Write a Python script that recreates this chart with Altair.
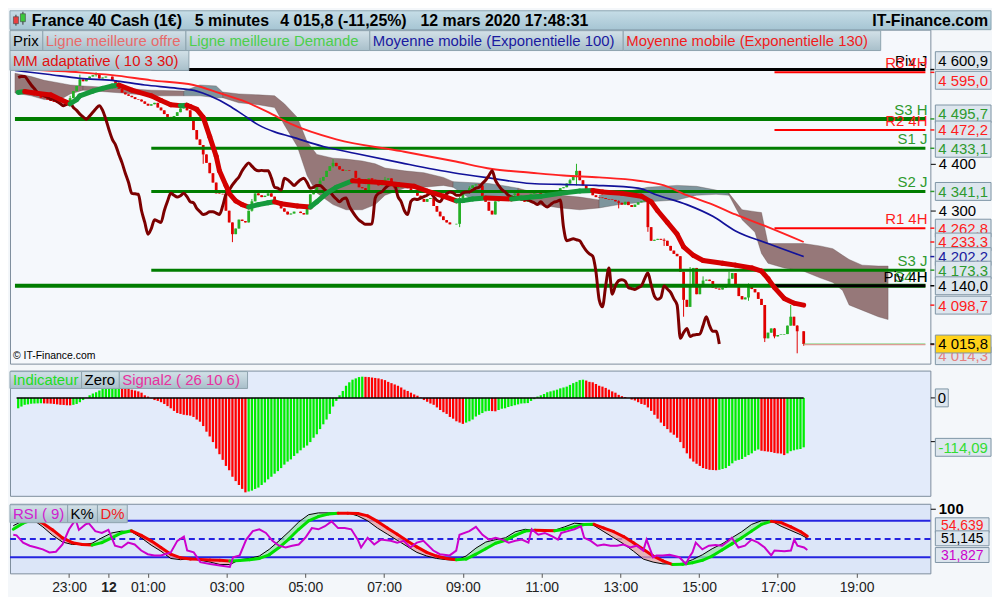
import altair as alt
import numpy as np
import pandas as pd

FONT = "Liberation Sans"
W = 926
H_PRICE, H_IND, H_RSI = 336, 126, 70
HDR = 19

# ---------------- time base ----------------
def ms(s):
    return int(pd.Timestamp(s, tz="UTC").value // 1_000_000)

T0 = ms("2020-03-11 21:35")
STEP = 5 * 60 * 1000
def ts(i):
    return T0 + STEP * i

X0, X1 = ms("2020-03-11 21:30"), ms("2020-03-12 20:52:30")
x_tick_times = ["2020-03-11 23:00", "2020-03-12 00:00", "2020-03-12 01:00", "2020-03-12 03:00",
                "2020-03-12 05:00", "2020-03-12 07:00", "2020-03-12 09:00", "2020-03-12 11:00",
                "2020-03-12 13:00", "2020-03-12 15:00", "2020-03-12 17:00", "2020-03-12 19:00"]

# ---------------- price data (5 min bars, closes) ----------------
first_open = 4553
closes = [
    4555, 4556, 4557, 4556, 4551, 4547, 4545, 4541, 4540, 4537, 4534, 4532, 4530, 4531, 4529, 4528,
    4540, 4555, 4566, 4580, 4576, 4582, 4586, 4589, 4591, 4582,
    4584, 4586, 4586, 4578, 4568, 4560, 4552, 4548, 4545, 4542, 4538, 4537, 4533, 4528, 4524, 4527,
    4530, 4520, 4514, 4506, 4500, 4495, 4502, 4510, 4518,
    4524, 4514, 4495, 4472, 4452, 4440, 4420, 4402, 4380, 4360, 4337, 4336, 4335, 4300, 4275, 4250,
    4262, 4281, 4278, 4275, 4300, 4320, 4337, 4333, 4329,
    4332, 4337, 4330, 4319, 4317, 4305, 4298, 4292, 4294, 4298, 4298, 4295, 4292, 4310, 4335, 4344,
    4355, 4364, 4372, 4385, 4395, 4402, 4395, 4388, 4385,
    4386, 4385, 4385, 4370, 4350, 4348, 4344, 4369, 4366, 4360, 4354, 4360, 4366, 4369, 4360, 4348,
    4350, 4354, 4354, 4348, 4342, 4340, 4332, 4325, 4319,
    4325, 4327, 4310, 4298, 4288, 4280, 4275, 4271, 4271, 4272, 4327, 4337, 4340, 4348, 4354, 4356,
    4354, 4330, 4319, 4300, 4292, 4320, 4325, 4324, 4327,
    4330, 4333, 4337, 4330, 4322, 4319, 4330, 4336, 4340, 4338, 4333, 4333, 4338, 4340, 4340, 4344,
    4348, 4350, 4358, 4365, 4375, 4385, 4365, 4354, 4345,
    4340, 4333, 4329, 4328, 4327, 4325, 4324, 4323, 4320, 4317, 4313, 4319, 4312, 4308, 4313, 4318,
    4320, 4323, 4265, 4236, 4238, 4240, 4238, 4236, 4225,
    4215, 4208, 4203, 4170, 4110, 4095, 4140, 4178, 4122, 4140, 4151, 4153, 4150, 4136, 4134, 4132,
    4136, 4140, 4155, 4167, 4142, 4118, 4111, 4115, 4140,
    4133, 4126, 4112, 4099, 4028, 4040, 4049, 4032, 4035, 4036, 4037, 4055, 4074, 4055, 4043, 4043,
    4015.8,
]
# bar index: (high, low) for visible wicks
wick_extremes = {
    16: (4545, 4525), 19: (4590, 4566), 24: (4595, 4586), 57: (4440, 4400), 66: (4262, 4233),
    72: (4325, 4298), 93: (4370, 4355), 97: (4410, 4392), 113: (4372, 4358), 136: (4330, 4265),
    139: (4352, 4336), 153: (4340, 4328), 170: (4368, 4356), 172: (4400, 4354), 185: (4322, 4305),
    194: (4325, 4255), 199: (4241, 4225), 205: (4170, 4074), 207: (4180, 4095), 211: (4160, 4138),
    219: (4170, 4150), 225: (4145, 4108), 230: (4099, 4020), 233: (4050, 4028), 238: (4099, 4055),
    240: (4056, 3996), 242: (4043, 4012),
}

# adaptive moving average (MM adaptative 10 3 30)
ama_idx = [0, 2, 5, 10, 13, 16, 18, 19, 23, 26, 29, 31, 35, 41, 44, 47, 50, 52, 53, 55,
           57, 59, 61, 62, 64, 65, 67, 69, 71, 74, 77, 79, 81, 86, 90, 92, 95, 98, 103, 107,
           112, 117, 122, 126, 131, 135, 137, 140, 144, 148, 152, 155, 161, 167, 173, 177, 180, 186, 192, 195,
           197, 200, 203, 205, 208, 211, 217, 221, 226, 229, 231, 233, 236, 239, 242]
ama_val = [4552, 4554, 4551, 4547, 4537, 4528, 4537, 4545, 4555, 4561, 4566, 4568, 4557, 4545, 4535, 4526, 4524, 4525, 4522, 4516,
           4499, 4458, 4416, 4385, 4354, 4337, 4321, 4313, 4308, 4313, 4317, 4319, 4315, 4310, 4308, 4319, 4337, 4350, 4364, 4362,
           4360, 4356, 4352, 4342, 4331, 4321, 4321.5, 4325, 4327, 4326, 4325, 4327, 4331, 4337, 4342, 4343, 4340, 4337, 4331, 4319,
           4300, 4275, 4250, 4223, 4205, 4194, 4188, 4184, 4178, 4171, 4155, 4136, 4113, 4103, 4098.7]

ema100_idx = [-1, 9, 19, 29, 39, 49, 55, 59, 65, 69, 74, 79, 84, 94, 104, 118, 134, 146, 158, 167,
              178, 191, 197, 206, 214, 221, 231, 242]
ema100_val = [4599, 4591, 4582, 4578, 4568, 4561, 4555, 4545, 4524, 4506, 4483, 4468, 4458, 4437, 4422, 4402, 4381, 4369, 4358, 4356,
              4354, 4348, 4333, 4313, 4288, 4257, 4230, 4202.2]
ema130_idx = [-1, 9, 19, 29, 41, 54, 62, 69, 77, 84, 98, 118, 134, 146, 158, 168, 179, 191, 199, 206, 214, 221, 231, 242]
ema130_val = [4603, 4599, 4595, 4589, 4578, 4568, 4551, 4535, 4510, 4485, 4452, 4427, 4406, 4389, 4381, 4375, 4371, 4364, 4354, 4333,
              4313, 4292, 4265, 4233.3]

# Ichimoku cloud pieces (projected 26 bars ahead)
cloud_kind = ["brun", "brun", "gris", "brun", "gris", "brun", "gris", "brun"]
cloud_idx = [
    [-1, 4, 8, 13, 16, 20],
    [20, 32, 41, 51],
    [51, 56, 61, 63],
    [63, 68, 74, 79, 82, 86, 89, 92, 97, 101, 106, 110, 113, 119, 125, 131, 134],
    [134, 139, 145, 149, 154],
    [154, 160, 167, 173, 179],
    [179, 185, 194, 203, 209, 215, 219],
    [219, 223, 227, 229, 231, 236, 242, 247, 251, 254, 256, 260, 265, 268],
]
cloud_top = [
    [4593, 4586, 4578, 4572, 4568, 4566],
    [4566, 4561, 4557, 4555],
    [4555, 4568, 4566, 4553],
    [4553, 4549, 4547, 4545, 4528, 4499, 4447, 4420, 4412, 4410, 4406, 4400, 4391, 4385, 4381, 4371, 4362],
    [4362, 4360, 4358, 4354, 4348],
    [4348, 4337, 4333, 4329, 4323],
    [4333, 4337, 4350, 4354, 4352, 4344, 4337],
    [4337, 4302, 4298, 4296, 4230, 4230, 4230, 4225, 4219, 4205, 4196, 4184, 4182, 4182],
]
cloud_bot = [
    [4551, 4545, 4537, 4537, 4549, 4557],
    [4557, 4551, 4545, 4545],
    [4545, 4545, 4541, 4541],
    [4541, 4530, 4526, 4520, 4483, 4437, 4375, 4338, 4313, 4302, 4302, 4313, 4333, 4348, 4350, 4354, 4350],
    [4350, 4327, 4323, 4323, 4329],
    [4329, 4313, 4306, 4302, 4306],
    [4306, 4313, 4319, 4323, 4333, 4335, 4333],
    [4333, 4281, 4254, 4209, 4188, 4178, 4171, 4157, 4147, 4130, 4099, 4088, 4074, 4068],
]

# pivot / support / resistance levels
level_name = ["Piv J", "R3 4H", "S3 H", "R2 4H", "S1 J", "S2 J", "R1 4H", "S3 J", "S4 H", "Piv 4H"]
level_val = [4600.9, 4595.0, 4495.7, 4472.2, 4433.1, 4341.1, 4262.8, 4173.3, 4140.0, 4140.0]
level_from = ["2020-03-12 01:00", "2020-03-12 17:00", "2020-03-11 21:30", "2020-03-12 17:00", "2020-03-12 01:00",
              "2020-03-12 01:00", "2020-03-12 17:00", "2020-03-12 01:00", "2020-03-11 21:30", "2020-03-12 17:00"]

bid_val, ask_val = 4015.8, 4014.3

# right-hand value boxes (drawn in this order)
price_box_val = [4600.9, 4595.0, 4495.7, 4472.2, 4433.1, 4341.1, 4262.8, 4233.3, 4202.2, 4173.3, 4140.0, 4098.7, 4014.3, 4015.8]
price_box_kind = ["piv", "r", "s", "r", "s", "s", "r", "r", "ema100", "s", "piv", "r", "ask", "last"]

# Signal2 (26 10 6) histogram
hist = [
    -24, -20, -16, -15, -13.5, -13, -12.7, -12.5, -12.8, -13, -13.3, -14, -15, -16, -16.3, -17, -17.2, -16, -14, -10,
    -5, 0.5, 6, 10, 13,
    17, 21, 24, 27, 29, 30, 31, 30.5, 28, 24, 19, 17, 15, 12, 6, 3, -1, -5, -7, -10, -14, -19, -24, -30, -35,
    -37, -39, -40, -41, -44, -50, -55, -65, -78, -89, -102, -117, -130, -143, -157, -167, -182, -192, -201, -210,
    -218, -216, -214, -210, -207,
    -201, -195, -188, -182, -175, -169, -162, -154, -147, -142, -134, -128, -121, -115, -110, -102, -92, -84, -72, -61,
    -50, -37, -20, -7, 6,
    16, 28, 36, 42, 45, 48, 49, 48.5, 48, 47, 46, 45, 43, 41, 37, 34, 31, 28, 24, 19, 16, 12, 8, 5, 1,
    -5, -9, -13, -16, -22, -28, -33, -37, -44, -48, -54, -57, -60, -57, -54, -50, -43, -39, -35, -31, -30, -30.5,
    -31, -28, -25,
    -24, -21, -19, -17, -15, -13, -12.5, -12, -7, -3, 3, 6, 9, 13, 15, 17, 19, 22, 24, 26, 30, 34, 37, 41, 42,
    40, 37, 36, 32, 28, 26, 23, 19, 15, 12, 7, 4, 2, 0, -4, -6, -10, -14, -16, -22, -30, -39, -48, -57, -65,
    -72, -80, -85, -92, -102, -116, -128, -140, -147, -152, -157, -162, -164, -166, -166.5, -167, -166, -164, -162,
    -157, -151, -145, -143, -141, -136,
    -132, -128, -122, -119, -122, -123, -124, -125, -127, -128, -128.5, -132, -128, -123, -121, -119, -118, -114.09,
]

# RSI (9)
rsi_idx = [0, 1, 3, 5, 7, 9, 11, 13, 15, 17, 19, 20, 22, 23, 25, 27, 29, 31, 33, 35,
           37, 39, 41, 43, 45, 48, 50, 52, 53, 55, 57, 60, 63, 66, 67, 69, 71, 73, 75, 77,
           79, 81, 83, 85, 87, 89, 91, 93, 95, 97, 99, 101, 103, 105, 106, 108, 110, 112, 115, 117,
           119, 121, 123, 125, 128, 130, 133, 135, 136, 139, 141, 143, 145, 147, 149, 151, 153, 155, 157, 158,
           160, 162, 164, 166, 167, 169, 171, 173, 174, 176, 178, 180, 182, 184, 186, 188, 190, 192, 193, 195,
           196, 198, 200, 203, 205, 206, 207, 208, 210, 212, 214, 216, 218, 219, 221, 223, 225, 227, 229, 231,
           232, 235, 237, 238, 239, 241, 242]
rsi_val = [57, 56, 44, 39, 36, 33, 28, 29, 41, 66, 82, 65, 74, 76, 63, 60, 65, 39, 36, 44,
           41, 31, 25, 23, 23, 28, 47, 54, 31, 28, 12, 9, 6.5, 4, 20, 23, 49, 63, 66, 60,
           47, 39, 36, 39, 41, 52, 68, 66, 71, 79, 68, 68, 66, 49, 36, 52, 41, 49, 47, 44,
           47, 36, 44, 47, 31, 25, 23, 31, 57, 63, 70, 57, 49, 52, 49, 44, 47, 49, 44, 66,
           57, 60, 55, 49, 60, 63, 66, 71, 52, 47, 39, 41, 39, 39, 41, 36, 39, 31, 49, 20,
           23, 23, 24, 20, 9, 20, 28, 44, 33, 39, 40, 39, 47, 52, 36, 39, 49, 44, 36, 23,
           31, 30, 31, 49, 39, 36, 31.827]

# Stochastic K% / D% (every 3 bars)
stoch_idx = list(range(0, 243, 3)) + [242]
stoch_k = [72, 80, 82, 70, 56, 45, 41, 41, 43, 52, 60, 63, 62, 52, 40, 30, 18, 16, 18, 15,
           12, 8, 8, 16, 18, 22, 33, 47, 62, 78, 90, 93, 93, 93, 93, 88, 80, 68, 58, 48,
           38, 28, 22, 18, 16, 15, 22, 35, 45, 49, 52, 62, 66, 64, 64, 64.5, 70, 76, 75, 72,
           62, 52, 42, 30, 17, 12, 9, 9, 10, 16, 24, 34, 42, 52, 62, 74, 80, 80, 71, 64,
           57, 51.145]
stoch_d = [66, 76, 82, 76, 65, 52, 44, 41, 40, 44, 52, 60, 63.5, 56, 47, 36, 25, 19, 17, 16.5,
           15.5, 15, 14, 14.5, 16, 18, 24, 36, 50, 66, 80, 87, 91, 92.5, 92.4, 92, 88, 79, 68, 58,
           47, 37, 28, 22, 18, 16, 17, 25, 34, 43, 48, 56, 63, 64.5, 64, 63.5, 66, 70, 74, 74.2,
           68, 62, 54, 44, 33, 22, 14, 8, 8.5, 11, 15, 22, 32, 42, 52, 63, 74, 79, 77, 70,
           62, 54.639]
rsi_levels = [80, 50, 20]

# ---------------- styles ----------------
BG = "#f4f7fa"
C_UP, C_DN = "#25b025", "#e00000"
AMA_UP, AMA_DN = "#159a3c", "#d40000"
LAG = "#7c0000"
EMA100_C, EMA130_C = "#12129a", "#ff2222"
CLOUD_C = {"brun": "#8a6767", "gris": "#6d8890"}
GREEN_LVL, RED_LVL, BLACK = "#007d00", "#ff0000", "#000000"
TXT_GREEN, TXT_RED, TXT_BLUE = "#2e9a2e", "#ff1c1c", "#1a1aa0"
HIST_UP, HIST_DN = "#00ee00", "#ff0000"
RSI_C = "#cc00cc"
D_UP, D_DN = "#00e000", "#f00000"
FILL_UP, FILL_DN = "#9be3a8", "#e9a3a3"
LEVEL_BLUE = "#2424e0"
BOX_FILL = "#dde6ee"
BOX_STROKE = "#7f95a5"
LEG_FILL = alt.Gradient(gradient="linear", x1=0, x2=0, y1=0, y2=1,
                        stops=[alt.GradientStop(color="#d3e1e8", offset=0),
                               alt.GradientStop(color="#a8bfca", offset=1)])
HDR_FILL = alt.Gradient(gradient="linear", x1=0, x2=0, y1=0, y2=1,
                        stops=[alt.GradientStop(color="#c6dde7", offset=0),
                               alt.GradientStop(color="#a6c5d3", offset=1)])

ONE = pd.DataFrame({"o": [0]})

def fr_num(v, nd=1):
    s = f"{v:,.{nd}f}"
    return s.replace(",", " ").replace(".", ",")

# ---------------- scales / encodings ----------------
xs = alt.Scale(type="utc", domain=[X0, X1], nice=False)
x_axis = alt.Axis(values=[ms(s) for s in x_tick_times],
                  labelExpr="utchours(datum.value) == 0 ? '12' : utcFormat(datum.value, '%H:%M')",
                  labelFontWeight={"condition": {"test": "utchours(datum.value) == 0", "value": "bold"}, "value": "normal"},
                  domain=False, grid=False, tickSize=4, tickColor="#555555", labelFont=FONT, labelFontSize=14,
                  labelColor="#222222", labelPadding=3, title=None)

def X(field, axis=None):
    return alt.X(field, type="temporal", scale=xs, axis=axis)

ps = alt.Scale(domain=[3974, 4686], nice=False, zero=False)
price_axis = alt.Axis(orient="right", values=[4300, 4400],
                      labelExpr="replace(format(datum.value, ',d'), ',', ' ')",
                      domain=False, grid=False, tickSize=5, tickColor=BLACK, labelFont=FONT,
                      labelFontSize=15, labelColor=BLACK, labelPadding=3, title=None)
def PY(field):
    return alt.Y(field, type="quantitative", scale=ps, axis=price_axis)

iscale = alt.Scale(domain=[-226, 63], nice=False, zero=False)
ind_axis = alt.Axis(orient="right", values=[0, -100], labels=False, domain=False, grid=False,
                    tickSize=5, tickColor=BLACK, title=None)
def IY(field):
    return alt.Y(field, type="quantitative", scale=iscale, axis=ind_axis)

rscale = alt.Scale(domain=[-6.5, 108], nice=False, zero=False)
rsi_axis = alt.Axis(orient="right", values=[100], domain=False, grid=False, tickSize=5, tickColor=BLACK,
                    labelFont=FONT, labelFontSize=15, labelFontWeight="bold", labelColor=BLACK,
                    labelPadding=3, title=None)
def RY(field):
    return alt.Y(field, type="quantitative", scale=rscale, axis=rsi_axis)


def box(x0, x1, y0, y1, text, color, size=15, weight="normal", fill=LEG_FILL, stroke="#8ea3ae", align="left"):
    r = alt.Chart(ONE).mark_rect(fill=fill, stroke=stroke, strokeWidth=1).encode(
        x=alt.value(x0), x2=alt.value(x1), y=alt.value(y0), y2=alt.value(y1))
    tx = x0 + 3 if align == "left" else (x0 + x1) / 2
    t = alt.Chart(ONE).mark_text(align=align, baseline="middle", font=FONT, fontSize=size,
                                 fontWeight=weight, color=color).encode(
        x=alt.value(tx), y=alt.value((y0 + y1) / 2 + 0.5), text=alt.value(text))
    return [r, t]


def value_boxes(vals, texts, txt_colors, fills, shifts, yenc, x0, x1, half, fsize):
    """One box per value, drawn in list order (later boxes on top)."""
    layers = []
    for v, txt, tc, fc, sh in zip(vals, texts, txt_colors, fills, shifts):
        g = pd.DataFrame({"v": [v], "txt": [txt]})
        layers.append(alt.Chart(g).mark_rect(stroke=BOX_STROKE, strokeWidth=1, fill=fc,
                                             yOffset=-half + sh, y2Offset=half + sh).encode(
            x=alt.value(x0), x2=alt.value(x1), y=yenc("v"), y2="v:Q"))
        layers.append(alt.Chart(g).mark_text(font=FONT, fontSize=fsize, align="center", baseline="middle",
                                             dy=sh + 0.5, color=tc).encode(
            x=alt.value((x0 + x1) / 2), y=yenc("v"), text="txt:N"))
    return layers

# ---------------- price panel ----------------
n = len(closes)
bars = pd.DataFrame({"i": range(n)})
bars["t"] = [ts(i) for i in bars["i"]]
bars["open"] = [first_open] + closes[:-1]
bars["close"] = closes
bars["high"] = bars[["open", "close"]].max(axis=1)
bars["low"] = bars[["open", "close"]].min(axis=1)
for k, (h, l) in wick_extremes.items():
    bars.loc[k, "high"] = max(bars.loc[k, "high"], h)
    bars.loc[k, "low"] = min(bars.loc[k, "low"], l)
bars["col"] = np.where(bars["close"] >= bars["open"], C_UP, C_DN)

lag = pd.DataFrame({"t": [ts(i - 26) for i in range(26, n)], "v": closes[26:]})

def seg_frame(idx, vals, up, dn):
    df = pd.DataFrame({"t": [ts(i) for i in idx[:-1]], "t2": [ts(i) for i in idx[1:]],
                       "y": vals[:-1], "y2": vals[1:]})
    df["col"] = np.where(df["y2"] >= df["y"], up, dn)
    return df

ama = seg_frame(ama_idx, ama_val, AMA_UP, AMA_DN)
ema100 = pd.DataFrame({"t": [ts(i) for i in ema100_idx], "v": ema100_val})
ema130 = pd.DataFrame({"t": [ts(i) for i in ema130_idx], "v": ema130_val})

cloud_rows = []
for s, kind in enumerate(cloud_kind):
    for i, tp, bt in zip(cloud_idx[s], cloud_top[s], cloud_bot[s]):
        cloud_rows.append({"seg": s, "t": ts(i), "top": tp, "bot": bt, "col": CLOUD_C[kind]})
cloud = pd.DataFrame(cloud_rows)

def level_style(name):
    if name.startswith("Piv"):
        return BLACK, BLACK, 3
    if name.startswith("R"):
        return RED_LVL, TXT_RED, 2
    return GREEN_LVL, TXT_GREEN, (4 if name.endswith(" H") else 3)

lv = pd.DataFrame({"name": level_name, "v": level_val, "t": [ms(s) for s in level_from]})
lv["t2"] = X1
lv["lc"] = [level_style(nm)[0] for nm in lv["name"]]
lv["tc"] = [level_style(nm)[1] for nm in lv["name"]]
lv["w"] = [level_style(nm)[2] for nm in lv["name"]]

quotes = pd.DataFrame({"t": [ts(n - 1)] * 2, "t2": [X1] * 2, "v": [bid_val, ask_val],
                       "c": ["#66cc66", "#e68a8a"]})

kind_txt = {"piv": BLACK, "r": TXT_RED, "s": TXT_GREEN, "ema100": TXT_BLUE, "last": BLACK, "ask": "#e68080"}
kind_fill = {"last": "#ffd21a"}
box_shift = [-9, 8, -5, 0, 0, 0, 0, 0, 0, 0, 0, 0, 11, 0]
pticks = pd.DataFrame({"v": price_box_val, "c": [kind_txt[k] for k in price_box_kind]})

price_layers = [
    alt.Chart(cloud).mark_area(opacity=0.88, stroke="#4e3a3a", strokeWidth=0.6, strokeOpacity=0.6).encode(
        x=X("t"), y=PY("top"), y2="bot:Q", detail="seg:N", color=alt.Color("col:N", scale=None)),
    alt.Chart(bars).mark_rule(strokeWidth=1).encode(
        x=X("t"), y=PY("low"), y2="high:Q", color=alt.Color("col:N", scale=None)),
    alt.Chart(bars).mark_bar(width=2.8).encode(
        x=X("t"), y=PY("open"), y2="close:Q", color=alt.Color("col:N", scale=None)),
    alt.Chart(lv).mark_rule().encode(
        x=X("t"), x2="t2:T", y=PY("v"), color=alt.Color("lc:N", scale=None),
        strokeWidth=alt.StrokeWidth("w:Q", scale=None)),
    alt.Chart(quotes).mark_rule(strokeWidth=1).encode(
        x=X("t"), x2="t2:T", y=PY("v"), color=alt.Color("c:N", scale=None)),
    alt.Chart(ema130).mark_line(color=EMA130_C, strokeWidth=1.9, interpolate="monotone").encode(x=X("t"), y=PY("v")),
    alt.Chart(ema100).mark_line(color=EMA100_C, strokeWidth=1.7, interpolate="monotone").encode(x=X("t"), y=PY("v")),
    alt.Chart(lag).mark_line(color=LAG, strokeWidth=3, interpolate="monotone").encode(x=X("t"), y=PY("v")),
    alt.Chart(ama).mark_rule(strokeWidth=5, strokeCap="round").encode(
        x=X("t"), x2="t2:T", y=PY("y"), y2="y2:Q", color=alt.Color("col:N", scale=None)),
    alt.Chart(lv).mark_text(font=FONT, fontSize=15, align="right", baseline="bottom", dy=-1).encode(
        x=alt.value(W - 3), y=PY("v"), text="name:N", color=alt.Color("tc:N", scale=None)),
    alt.Chart(ONE).mark_text(font=FONT, fontSize=10.5, align="left", baseline="middle", color=BLACK).encode(
        x=alt.value(3), y=alt.value(H_PRICE - 8), text=alt.value("© IT-Finance.com")),
    alt.Chart(pticks).mark_rule(strokeWidth=1.5).encode(
        x=alt.value(W), x2=alt.value(W + 4), y=PY("v"), color=alt.Color("c:N", scale=None)),
]

# legend boxes of the price panel
leg1 = [(0, 33, "Prix", BLACK), (33, 177, "Ligne meilleure offre", "#e86a6a"),
        (177, 362, "Ligne meilleure Demande", "#4ccf4c"),
        (362, 617, "Moyenne mobile (Exponentielle 100)", "#1a1aa0"),
        (617, 876, "Moyenne mobile (Exponentielle 130)", "#f01c1c")]
for x0, x1, txt, c in leg1:
    price_layers += box(x0, x1, 1, 21, txt, c)
price_layers += box(0, 180, 21, 41, "MM adaptative ( 10 3 30)", "#e01010")

# header bar
price_layers.append(alt.Chart(ONE).mark_rect(fill=HDR_FILL, stroke="#8ba5b3", strokeWidth=1).encode(
    x=alt.value(0), x2=alt.value(W + 61), y=alt.value(-HDR), y2=alt.value(0)))
for xpos, txt, al in [(22, "France 40 Cash (1€)", "left"), (186, "5 minutes", "left"),
                      (272, "4 015,8 (-11,25%)", "left"), (413, "12 mars 2020 17:48:31", "left"),
                      (W + 58, "IT-Finance.com", "right")]:
    price_layers.append(alt.Chart(ONE).mark_text(font=FONT, fontSize=16, fontWeight="bold", align=al,
                                                 baseline="middle", color=BLACK).encode(
        x=alt.value(xpos), y=alt.value(-HDR / 2 + 0.5), text=alt.value(txt)))
# little candle icon
for cx, y0, y1, w0, w1, c in [(6, -13, -6, -15, -4, "#e84040"), (13, -16, -8, -18, -5, "#3cc83c")]:
    price_layers.append(alt.Chart(ONE).mark_rule(color="#333333", strokeWidth=1).encode(
        x=alt.value(cx), y=alt.value(w0), y2=alt.value(w1)))
    price_layers.append(alt.Chart(ONE).mark_rect(fill=c, stroke="#444444", strokeWidth=0.6).encode(
        x=alt.value(cx - 2.5), x2=alt.value(cx + 2.5), y=alt.value(y0), y2=alt.value(y1)))

# right-hand value boxes
price_layers += value_boxes(
    price_box_val, [fr_num(v) for v in price_box_val], [kind_txt[k] for k in price_box_kind],
    [kind_fill.get(k, BOX_FILL) for k in price_box_kind], box_shift, PY, W + 5, W + 61, 9, 15)

price = alt.layer(*price_layers).properties(
    width=W, height=H_PRICE, view=alt.ViewBackground(fill="#f5f8fc", stroke="#7d8d9c", strokeWidth=1))

# ---------------- indicator panel ----------------
hist_df = pd.DataFrame({"t": [ts(i) for i in range(len(hist))], "v": hist})
prev = [hist[0] - 1] + hist[:-1]
hist_df["col"] = [HIST_UP if v >= p else HIST_DN for v, p in zip(hist, prev)]
zero_df = pd.DataFrame({"t": [ts(0) - STEP // 2], "t2": [ts(len(hist) - 1)], "v": [0]})

ind_layers = [
    alt.Chart(hist_df).mark_bar(width=2.3).encode(
        x=X("t"), y=IY("v"), y2=alt.datum(0), color=alt.Color("col:N", scale=None)),
    alt.Chart(zero_df).mark_rule(color=BLACK, strokeWidth=1.5).encode(x=X("t"), x2="t2:T", y=IY("v")),
]
for x0, x1, txt, c in [(0, 72, "Indicateur", "#22dd22"), (72, 110, "Zero", BLACK),
                       (110, 239, "Signal2 ( 26 10 6)", "#e8309e")]:
    ind_layers += box(x0, x1, 1, 18, txt, c)
ind_layers += value_boxes([0], ["0"], [BLACK], [BOX_FILL], [0], IY, W + 5, W + 18, 9, 15)
ind_layers += value_boxes([hist[-1]], [fr_num(hist[-1], 2)], ["#33dd33"], [BOX_FILL], [0], IY, W + 5, W + 61, 9, 15)

ind = alt.layer(*ind_layers).properties(
    width=W, height=H_IND, view=alt.ViewBackground(fill="#e3ebfa", stroke="#7d8d9c", strokeWidth=1))

# ---------------- RSI / stochastic panel ----------------
sk = pd.DataFrame({"t": [ts(i) for i in stoch_idx], "k": stoch_k, "d": stoch_d})
above = (sk["k"] >= sk["d"]).tolist()
rows, seg = [], 0
for j in range(len(sk)):
    if j > 0 and above[j] != above[j - 1]:
        rows.append({"seg": seg, "t": sk["t"][j], "k": sk["k"][j], "d": sk["d"][j],
                     "col": FILL_UP if above[j - 1] else FILL_DN})
        seg += 1
    rows.append({"seg": seg, "t": sk["t"][j], "k": sk["k"][j], "d": sk["d"][j],
                 "col": FILL_UP if above[j] else FILL_DN})
fill_df = pd.DataFrame(rows)
dseg = seg_frame(stoch_idx, stoch_d, D_UP, D_DN)
rsi_df = pd.DataFrame({"t": [ts(i) for i in rsi_idx], "v": rsi_val})
lvl_df = pd.DataFrame({"v": rsi_levels, "dash": [0, 1, 0]})

rsi_layers = [
    alt.Chart(lvl_df[lvl_df.dash == 0]).mark_rule(color=LEVEL_BLUE, strokeWidth=2).encode(y=RY("v")),
    alt.Chart(lvl_df[lvl_df.dash == 1]).mark_rule(color=LEVEL_BLUE, strokeWidth=2, strokeDash=[6, 4]).encode(y=RY("v")),
    alt.Chart(fill_df).mark_area(opacity=0.75).encode(
        x=X("t", x_axis), y=RY("k"), y2="d:Q", detail="seg:N", color=alt.Color("col:N", scale=None)),
    alt.Chart(sk).mark_line(color=BLACK, strokeWidth=1).encode(x=X("t", x_axis), y=RY("k")),
    alt.Chart(dseg).mark_rule(strokeWidth=3, strokeCap="round").encode(
        x=X("t", x_axis), x2="t2:T", y=RY("y"), y2="y2:Q", color=alt.Color("col:N", scale=None)),
    alt.Chart(rsi_df).mark_line(color=RSI_C, strokeWidth=2).encode(x=X("t", x_axis), y=RY("v")),
]
for x0, x1, txt, c in [(0, 58, "RSI ( 9)", "#d020d0"), (58, 88, "K%", BLACK), (88, 118, "D%", "#f01c1c")]:
    rsi_layers += box(x0, x1, 1, 19, txt, c)
rsi_end = [stoch_d[-1], stoch_k[-1], rsi_val[-1]]
rsi_layers += value_boxes(rsi_end, [fr_num(v, 3) for v in rsi_end], [TXT_RED, BLACK, RSI_C],
                          [BOX_FILL] * 3, [-11, 0, 5], RY, W + 5, W + 59, 7.5, 14)

rsi = alt.layer(*rsi_layers).properties(
    width=W, height=H_RSI, view=alt.ViewBackground(fill="#dce6f8", stroke="#7d8d9c", strokeWidth=1))

chart = alt.vconcat(price, ind, rsi, spacing=4).properties(
    background=BG, padding={"left": 0, "top": 0, "right": 0, "bottom": 0})

chart.save("out.html", embed_options={"renderer": "svg", "actions": False})
